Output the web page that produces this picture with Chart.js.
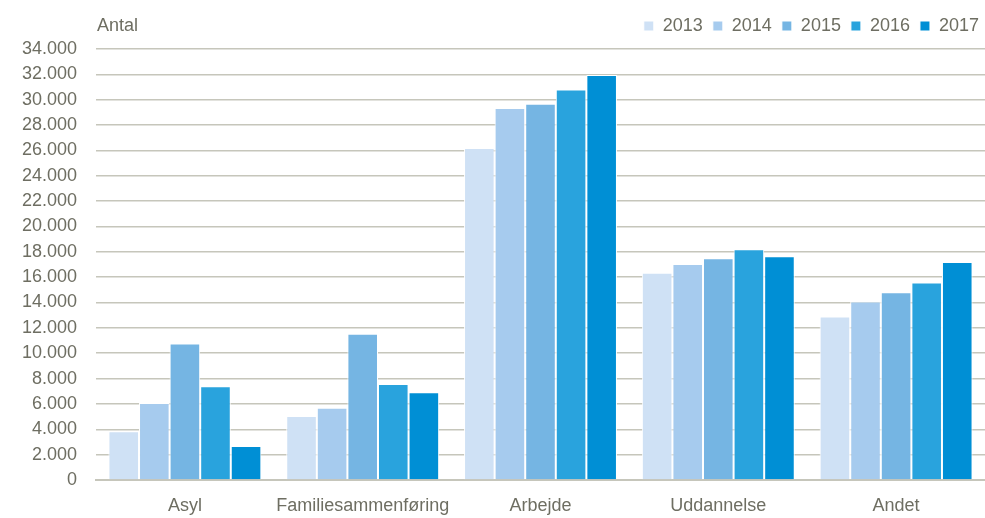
<!DOCTYPE html>
<html>
<head>
<meta charset="utf-8">
<script src="https://cdn.jsdelivr.net/npm/chart.js@4"></script>
<style>
  html, body { margin: 0; padding: 0; background: #fff; overflow: hidden; }
  #wrap { width: 985px; height: 518px; position: relative; }
</style>
</head>
<body>
<div id="wrap"><canvas id="myChart"></canvas></div>
<script>
const categories = ['Asyl', 'Familiesammenføring', 'Arbejde', 'Uddannelse', 'Andet']
const years = ['2013', '2014', '2015', '2016', '2017']
const values2013 = [3850, 5040, 26200, 16340, 12890]
const values2014 = [6080, 5690, 29350, 17040, 14080]
const values2015 = [10760, 11540, 29690, 17490, 14810]
const values2016 = [7400, 7580, 30800, 18210, 15580]
const values2017 = [2680, 6930, 31950, 17660, 17200]
const colors = ['#cfe1f5', '#a6cbee', '#75b5e3', '#29a3dd', '#008fd5']
const yTitle = 'Antal'

const textColor = '#6e6e62'
const gridColor = '#c6c6bb'
const fontFamily = '"Liberation Sans", Arial, sans-serif'
const fontSize = 18

function formatNumber(v) {
  return String(v).replace(/\B(?=(\d{3})+(?!\d))/g, '.')
}

const seriesValues = [values2013, values2014, values2015, values2016, values2017]

const datasets = years.map(function (year, i) {
  return {
    label: year,
    data: seriesValues[i],
    backgroundColor: colors[i],
    borderColor: '#ffffff',
    borderWidth: 1,
    categoryPercentage: 0.86,
    barPercentage: 1.0
  }
})

// draws the "Antal" label above the y axis, and gives the legend a bit more room below it
const axisTitlePlugin = {
  id: 'axisTitle',
  beforeLayout(chart) {
    const lg = chart.legend
    if (lg && !lg._extraSpace) {
      const origFit = lg.fit.bind(lg)
      lg.fit = function () {
        origFit()
        this.height += 4
      }
      lg._extraSpace = true
    }
  },
  afterDraw(chart) {
    const ctx = chart.ctx
    ctx.save()
    ctx.font = fontSize + 'px ' + fontFamily
    ctx.fillStyle = textColor
    ctx.textAlign = 'left'
    ctx.textBaseline = 'middle'
    ctx.fillText(yTitle, chart.chartArea.left + 1, 26)
    ctx.restore()
  }
}

Chart.defaults.font.family = fontFamily
Chart.defaults.font.size = fontSize
Chart.defaults.color = textColor

new Chart(document.getElementById('myChart'), {
  type: 'bar',
  data: { labels: categories, datasets: datasets },
  options: {
    responsive: true,
    maintainAspectRatio: false,
    animation: false,
    layout: { padding: { top: 7, right: -4, bottom: 0, left: 0 } },
    plugins: {
      legend: {
        position: 'top',
        align: 'end',
        labels: {
          boxWidth: 10,
          boxHeight: 10,
          padding: 10,
          color: textColor,
          font: { size: fontSize }
        }
      },
      tooltip: { enabled: false }
    },
    scales: {
      x: {
        afterFit(scale) { scale.height = 38 },
        grid: { display: false },
        border: { display: true, color: gridColor, width: 2 },
        ticks: {
          padding: 7,
          maxRotation: 0,
          autoSkip: false,
          color: textColor,
          font: { size: fontSize }
        }
      },
      y: {
        min: 0,
        max: 34000,
        afterFit(scale) { scale.width = 96 },
        border: { display: false },
        grid: { color: gridColor, lineWidth: 1.5, drawTicks: false },
        ticks: {
          stepSize: 2000,
          autoSkip: false,
          padding: 19,
          color: textColor,
          font: { size: fontSize },
          callback: function (v) { return formatNumber(v) }
        }
      }
    }
  },
  plugins: [axisTitlePlugin]
})
</script>
</body>
</html>
